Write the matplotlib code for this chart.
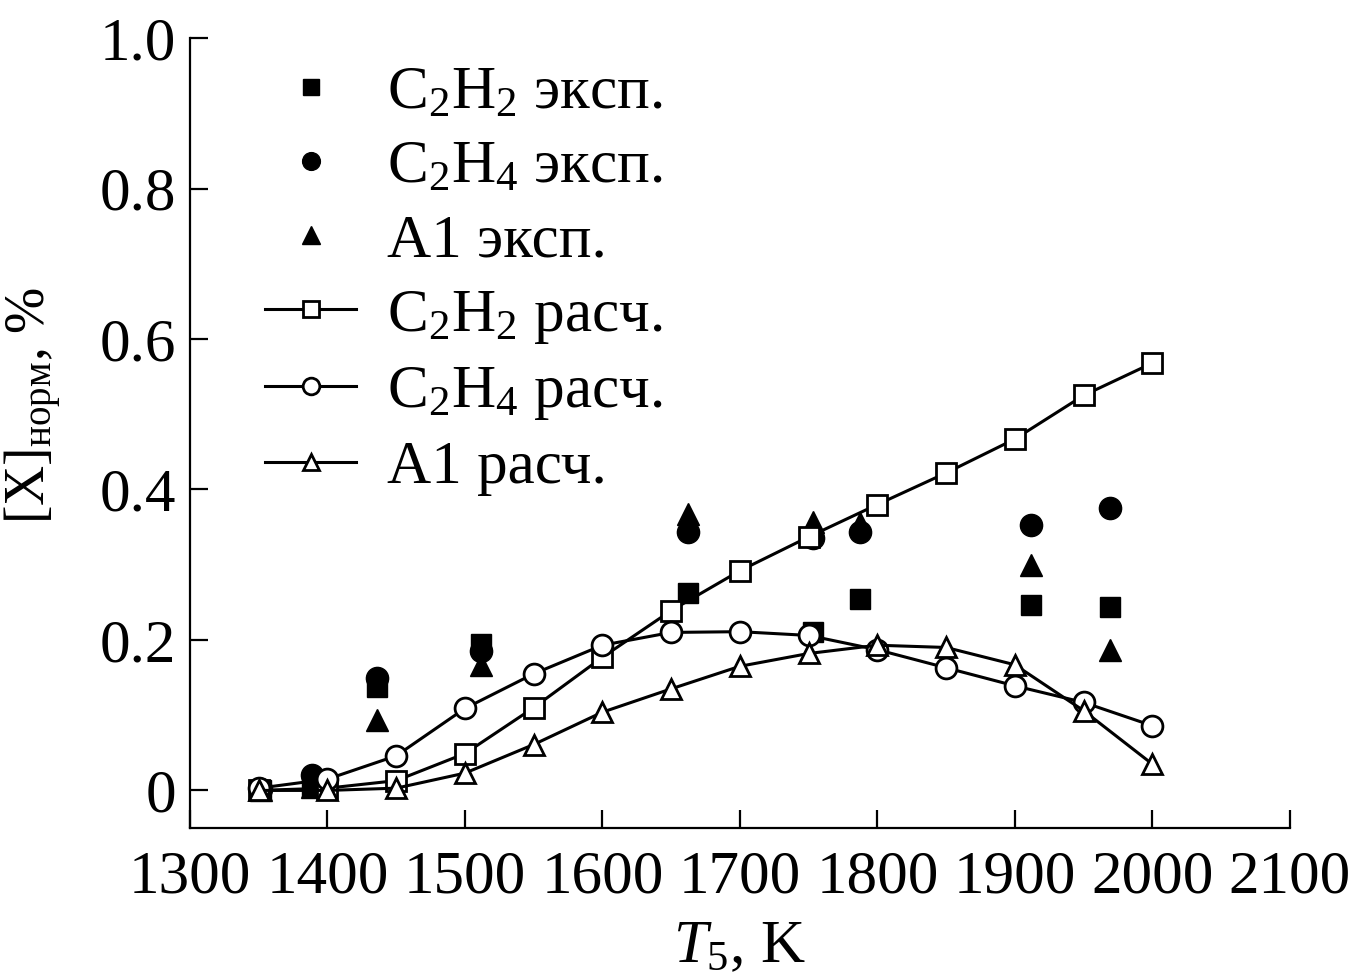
import numpy as np
import matplotlib
matplotlib.use("Agg")
import matplotlib.pyplot as plt

plt.rcParams["font.family"] = ["Liberation Serif", "DejaVu Serif"]
plt.rcParams["mathtext.fontset"] = "custom"
plt.rcParams["mathtext.rm"] = "Liberation Serif"
plt.rcParams["mathtext.it"] = "Liberation Serif:italic"

# calculated curves (every 50 K)
T_calc = [1350, 1400, 1450, 1500, 1550, 1600, 1650, 1700, 1750, 1800, 1850, 1900, 1950, 2000]
c2h2_calc = [0.0, 0.003, 0.013, 0.049, 0.110, 0.177, 0.239, 0.292, 0.337, 0.380, 0.422, 0.467, 0.525, 0.568]
c2h4_calc = [0.003, 0.015, 0.046, 0.109, 0.155, 0.193, 0.210, 0.211, 0.206, 0.187, 0.163, 0.139, 0.117, 0.086]
a1_calc = [0.0, 0.0, 0.003, 0.023, 0.061, 0.104, 0.135, 0.165, 0.182, 0.193, 0.190, 0.167, 0.106, 0.035]

# experiment
T_exp = [1352, 1389, 1436, 1512, 1662, 1753, 1787, 1912, 1969]
c2h2_exp = [0.0, 0.005, 0.137, 0.194, 0.262, 0.211, 0.254, 0.247, 0.244]
c2h4_exp = [0.002, 0.020, 0.150, 0.185, 0.344, 0.335, 0.343, 0.353, 0.376]
a1_exp = [0.0, 0.005, 0.094, 0.167, 0.368, 0.357, 0.356, 0.299, 0.186]

fig = plt.figure(figsize=(13.62, 9.76), dpi=100)
ax = fig.add_axes([0.1395, 0.1516, 0.8075, 0.8094])

ms_exp = 16
ax.plot(T_exp, c2h2_exp, "s", color="black", ms=ms_exp * 0.9, ls="none", zorder=2,
        label=r"C$_2$H$_2$ эксп.")
ax.plot(T_exp, c2h4_exp, "o", color="black", ms=ms_exp, ls="none", zorder=2,
        label=r"C$_2$H$_4$ эксп.")
ax.plot(T_exp, a1_exp, "^", color="black", ms=ms_exp, ls="none", zorder=2,
        label="A1 эксп.")

calc_kw = dict(color="black", lw=2.2, mfc="white", mec="black", mew=2.0, zorder=3)
ax.plot(T_calc, c2h2_calc, marker="s", ms=14, label=r"C$_2$H$_2$ расч.", **calc_kw)
ax.plot(T_calc, c2h4_calc, marker="o", ms=15, label=r"C$_2$H$_4$ расч.", **calc_kw)
ax.plot(T_calc, a1_calc, marker="^", ms=15, label="A1 расч.", **calc_kw)

ax.set_xlim(1300, 2100)
ax.set_ylim(-0.05, 1.0)
ax.set_xticks(np.arange(1300, 2101, 100))
ax.set_yticks([0, 0.2, 0.4, 0.6, 0.8, 1.0])
ax.set_yticklabels(["0", "0.2", "0.4", "0.6", "0.8", "1.0"])

for s in ["top", "right"]:
    ax.spines[s].set_visible(False)
for s in ["left", "bottom"]:
    ax.spines[s].set_linewidth(1.6)
ax.tick_params(direction="in", length=13, width=1.6, labelsize=44)
ax.tick_params(axis="x", pad=16)
ax.tick_params(axis="y", pad=10)

ax.set_xlabel(r"$T_5$, K", fontsize=44, labelpad=10)
ax.set_ylabel(r"[X]$_{\rm норм}$, %", fontsize=40)
ax.yaxis.set_label_coords(-0.115, 0.535)

ax.legend(loc="upper left", bbox_to_anchor=(0.068, 0.965), frameon=False, fontsize=44,
          handlelength=1.5, handletextpad=0.5, labelspacing=0.3, borderpad=0,
          borderaxespad=0, markerscale=0.8)

fig.savefig("out.png", dpi=100, facecolor="white")
